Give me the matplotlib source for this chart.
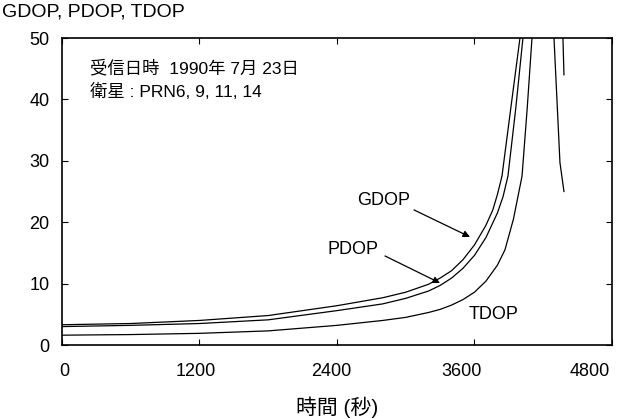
import matplotlib
matplotlib.use("Agg")
import matplotlib.pyplot as plt
from matplotlib.transforms import ScaledTranslation

plt.rcParams['font.family'] = ['Liberation Sans', 'Noto Sans CJK JP']

# Time (s) and DOP values before the singular geometry
gdop_t = [0, 600, 1200, 1800, 2400, 2800, 3000, 3200, 3300, 3400, 3500, 3600, 3700, 3760, 3800, 3840, 3920, 3997]
gdop_v = [3.3, 3.5, 4.0, 4.8, 6.4, 7.7, 8.6, 9.9, 10.9, 12.1, 13.9, 16.3, 19.5, 22.0, 24.5, 27.5, 39.0, 50.0]

pdop_t = [0, 600, 1200, 1800, 2400, 2800, 3000, 3200, 3300, 3400, 3500, 3600, 3700, 3800, 3850, 3892, 3960, 4023]
pdop_v = [3.0, 3.2, 3.5, 4.1, 5.6, 6.7, 7.6, 8.8, 9.7, 10.9, 12.5, 14.6, 17.5, 21.5, 24.2, 27.5, 38.5, 50.0]

tdop_t = [0, 600, 1200, 1800, 2400, 2800, 3000, 3200, 3300, 3400, 3500, 3600, 3700, 3800, 3866, 3940, 4015, 4060, 4102]
tdop_v = [1.6, 1.7, 1.9, 2.3, 3.2, 4.0, 4.5, 5.3, 5.8, 6.5, 7.4, 8.6, 10.4, 13.0, 15.5, 20.5, 27.5, 38.5, 50.0]

# After the singularity
gdop2_t = [4372, 4381]
gdop2_v = [50.0, 44.0]
pdop2_t = [4294, 4346, 4381]
pdop2_v = [50.0, 29.7, 25.0]

x_ticks = [0, 1200, 2400, 3600, 4800]
y_ticks = [0, 10, 20, 30, 40, 50]

fig = plt.figure(figsize=(6.23, 4.19), dpi=100)
ax = fig.add_axes([0.0995, 0.1766, 0.8828, 0.7327])

lw = 0.9
ax.plot(gdop_t, gdop_v, color='black', lw=lw)
ax.plot(pdop_t, pdop_v, color='black', lw=lw)
ax.plot(tdop_t, tdop_v, color='black', lw=lw)
ax.plot(gdop2_t, gdop2_v, color='black', lw=lw)
ax.plot(pdop2_t, pdop2_v, color='black', lw=lw)

ax.set_xlim(0, 4800)
ax.set_ylim(0, 50)
ax.set_xticks(x_ticks)
ax.set_yticks(y_ticks)
ax.tick_params(direction='in', top=True, right=True, length=4, width=0.8,
               labelsize=13)
ax.tick_params(axis='y', pad=9)
ax.tick_params(axis='x', pad=13)
for s in ax.spines.values():
    s.set_linewidth(1.2)

# nudge x tick labels so the last one stays inside the figure
for lab, dx in zip(ax.get_xticklabels(), [2, -4, -6, -13, -22]):
    lab.set_transform(lab.get_transform() + ScaledTranslation(dx / 100, 0, fig.dpi_scale_trans))

ax.set_xlabel('時間 (秒)', fontsize=15, labelpad=12)
fig.text(0.003, 0.972, 'GDOP, PDOP, TDOP', fontsize=14, ha='left', va='center')

ax.text(244, 46.5, '受信日時  1990年 7月 23日\n衛星 : PRN6, 9, 11, 14',
        fontsize=12.5, ha='left', va='top', linespacing=1.45)

# curve labels with arrows pointing at the GDOP and PDOP lines
arrow = dict(arrowstyle='-|>', color='black', lw=0.9, mutation_scale=10,
             shrinkA=0, shrinkB=0)
ax.text(2810, 23.6, 'GDOP', fontsize=13, ha='center', va='center')
ax.annotate('', xy=(3561, 17.6), xytext=(3072, 22.0), arrowprops=arrow)
ax.text(2540, 15.6, 'PDOP', fontsize=13, ha='center', va='center')
ax.annotate('', xy=(3299, 10.1), xytext=(2819, 14.5), arrowprops=arrow)
ax.text(3770, 4.9, 'TDOP', fontsize=13, ha='center', va='center')

fig.savefig('out.png', dpi=100)
